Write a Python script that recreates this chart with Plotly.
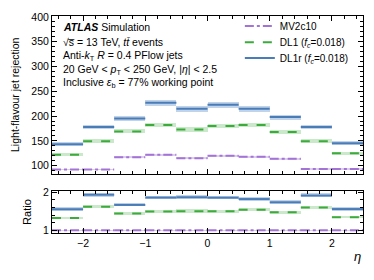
import plotly.graph_objects as go

eta_edges = [-2.5, -2.0, -1.5, -1.0, -0.5, 0.0, 0.5, 1.0, 1.5, 2.0, 2.5]
mv2c10 = [92, 92, 117, 122, 115, 120, 118, 114, 93, 93]
dl1 = [122, 149, 169, 182, 173, 180, 182, 168, 149, 125]
dl1r = [143, 178, 195, 227, 215, 223, 215, 198, 178, 145]
mv2c10_err = [1.5, 1.5, 2, 2, 2, 2, 2, 2, 1.5, 1.5]
dl1_err = [3, 4, 4, 5, 5, 5, 5, 4, 4, 3]
dl1r_err = [4, 5, 5, 6, 6, 6, 6, 5, 5, 4]

names = ["MV2c10", "DL1 (<i>f<sub>c</sub></i>=0.018)", "DL1r (<i>f<sub>c</sub></i>=0.018)"]
colors = ["#a374d6", "#3cab3c", "#4a7db8"]
band_colors = ["rgba(163,116,214,0.35)", "rgba(150,210,150,0.5)", "rgba(140,175,215,0.55)"]
dashes = ["dashdot", "dash", "solid"]

FONT = "Liberation Sans, Arial, Helvetica, sans-serif"

centers = [(a + b) / 2 for a, b in zip(eta_edges[:-1], eta_edges[1:])]
widths = [b - a for a, b in zip(eta_edges[:-1], eta_edges[1:])]

def seg(vals):
    xs, ys = [], []
    for i, v in enumerate(vals):
        xs += [eta_edges[i], eta_edges[i + 1], None]
        ys += [v, v, None]
    return xs, ys

fig = go.Figure()
series = [mv2c10, dl1, dl1r]
errs = [mv2c10_err, dl1_err, dl1r_err]
for k, (vals, err) in enumerate(zip(series, errs)):
    ratio = [v / m for v, m in zip(vals, mv2c10)]
    rerr = [e / m for e, m in zip(err, mv2c10)]
    fig.add_trace(go.Bar(x=centers, y=[2 * e for e in err], base=[v - e for v, e in zip(vals, err)],
                         width=widths, marker=dict(color=band_colors[k], line=dict(width=0)),
                         showlegend=False, hoverinfo="skip", xaxis="x2", yaxis="y2"))
    fig.add_trace(go.Bar(x=centers, y=[2 * e for e in rerr], base=[v - e for v, e in zip(ratio, rerr)],
                         width=widths, marker=dict(color=band_colors[k], line=dict(width=0)),
                         showlegend=False, hoverinfo="skip", xaxis="x", yaxis="y"))
legend_ids = ["legend", "legend2", "legend3"]
for k, vals in enumerate(series):
    ratio = [v / m for v, m in zip(vals, mv2c10)]
    xs, ys = seg(vals)
    fig.add_trace(go.Scatter(x=xs, y=ys, mode="lines", name=names[k], legend=legend_ids[k],
                             line=dict(color=colors[k], width=2, dash=dashes[k]),
                             xaxis="x2", yaxis="y2"))
    xs, ys = seg(ratio)
    fig.add_trace(go.Scatter(x=xs, y=ys, mode="lines", showlegend=False,
                             line=dict(color=colors[k], width=2, dash=dashes[k]),
                             xaxis="x", yaxis="y"))

axcommon = dict(showline=True, linecolor="black", linewidth=1, mirror="allticks",
                ticks="inside", ticklen=5, tickcolor="black", showgrid=False, zeroline=False,
                tickfont=dict(family=FONT, size=10.5, color="black"))

def legend_at(ypx):
    return dict(x=0.604, y=1 - (ypx - 14) / 219, xanchor="left", yanchor="middle",
                bgcolor="rgba(0,0,0,0)", font=dict(family=FONT, size=10), itemwidth=30)

# the page body has an 8px margin: the figure is sized so the plot area sits where the reference has it
fig.update_layout(
    width=358, height=264,
    margin=dict(l=44, r=3, t=6, b=39),
    paper_bgcolor="white", plot_bgcolor="white",
    barmode="overlay", bargap=0,
    font=dict(family=FONT, size=10.5, color="black"),
    xaxis=dict(range=[-2.5, 2.5], anchor="y", tickvals=[-2, -1, 0, 1, 2],
               minor=dict(ticks="inside", ticklen=3, dtick=0.2, tickcolor="black"),
               **axcommon),
    xaxis2=dict(range=[-2.5, 2.5], anchor="y2", matches="x", showticklabels=False,
                tickvals=[-2, -1, 0, 1, 2],
                minor=dict(ticks="inside", ticklen=3, dtick=0.2, tickcolor="black"),
                **axcommon),
    yaxis=dict(domain=[0, 0.193], range=[0.93, 2.03], tickvals=[1, 2], anchor="x",
               minor=dict(ticks="inside", ticklen=3, dtick=0.2, tickcolor="black"),
               title=dict(text="Ratio", font=dict(family=FONT, size=11), standoff=9),
               **axcommon),
    yaxis2=dict(domain=[0.274, 1], range=[84, 402], tickvals=[100, 150, 200, 250, 300, 350, 400],
                anchor="x2",
                minor=dict(ticks="inside", ticklen=3, dtick=10, tickcolor="black"),
                title=dict(text="Light-flavour jet rejection", font=dict(family=FONT, size=10.5), standoff=9),
                **axcommon),
    legend=legend_at(24),
    legend2=legend_at(40.5),
    legend3=legend_at(56.5),
)

text_lines = [
    "<b><i>ATLAS</i></b> Simulation",
    "√s\u0305 = 13 TeV, <i>t</i><i>t\u0304</i> events",
    "Anti-<i>k</i><sub>T</sub> <i>R</i> = 0.4 PFlow jets",
    "20 GeV < <i>p</i><sub>T</sub> < 250 GeV, |<i>η</i>| < 2.5",
    "Inclusive <i>ε</i><sub>b</sub> = 77% working point",
]
ys_px = [25, 40, 54, 68, 82]
for t, ypx in zip(text_lines, ys_px):
    fig.add_annotation(text=t, xref="paper", yref="paper", x=(61 - 52) / 311,
                       y=1 - (ypx - 14) / 219, xanchor="left", yanchor="middle",
                       showarrow=False, font=dict(family=FONT, size=10.5, color="black"))

fig.add_annotation(text="<i>η</i>", xref="paper", yref="paper", x=1, y=(233 - 257) / 219,
                   xanchor="right", yanchor="middle", showarrow=False,
                   font=dict(family=FONT, size=13, color="black"))

fig.write_html("out.html")
